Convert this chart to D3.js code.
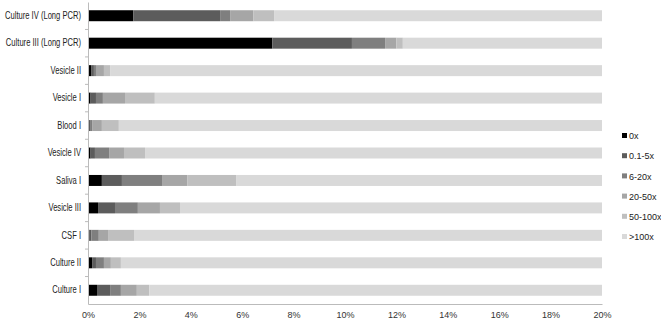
<!DOCTYPE html>
<html>
<head>
<meta charset="utf-8">
<script src="https://cdnjs.cloudflare.com/ajax/libs/d3/7.8.5/d3.min.js"></script>
<style>
  body { margin: 0; background: #fff; }
  svg text { font-family: "Liberation Sans", Arial, sans-serif; fill: #222; }
</style>
</head>
<body>
<svg width="661" height="322"></svg>
<script>
// samples, top to bottom
var samples = ["Culture IV (Long PCR)", "Culture III (Long PCR)", "Vesicle II", "Vesicle I", "Blood I",
    "Vesicle IV", "Saliva I", "Vesicle III", "CSF I", "Culture II", "Culture I"];

var coverageBins = ["0x", "0.1-5x", "6-20x", "20-50x", "50-100x", ">100x"];
var binColors = ["#000000", "#5c5c5c", "#7f7f7f", "#a6a6a6", "#bfbfbf", "#d9d9d9"];

// percent of genome in each coverage bin, per sample (same order as samples)
var cov0x      = [1.76, 7.17, 0.12, 0.10, 0.03, 0.10, 0.54, 0.39, 0.06, 0.16, 0.35];
var cov0_1to5  = [3.38, 3.10, 0.11, 0.21, 0.05, 0.17, 0.78, 0.66, 0.07, 0.15, 0.51];
var cov6to20   = [0.39, 1.29, 0.08, 0.27, 0.08, 0.55, 1.56, 0.89, 0.29, 0.31, 0.42];
var cov20to50  = [0.90, 0.44, 0.31, 0.86, 0.38, 0.58, 0.98, 0.86, 0.36, 0.27, 0.62];
var cov50to100 = [0.81, 0.25, 0.24, 1.16, 0.66, 0.82, 1.92, 0.78, 1.01, 0.39, 0.48];
var covOver100 = [92.76, 87.75, 99.14, 97.40, 98.80, 97.78, 94.22, 96.42, 98.21, 98.72, 97.62];

var xTicks = [0, 2, 4, 6, 8, 10, 12, 14, 16, 18, 20];

var series = [cov0x, cov0_1to5, cov6to20, cov20to50, cov50to100, covOver100];

var rows = samples.map(function (s, i) {
    var r = { sample: s };
    coverageBins.forEach(function (b, j) { r[b] = series[j][i]; });
    return r;
});

var svg = d3.select("svg");
var margin = { left: 88, right: 59, top: 2, bottom: 18 };
var width = 661 - margin.left - margin.right,
    height = 322 - margin.top - margin.bottom;

var g = svg.append("g").attr("transform", "translate(" + margin.left + "," + margin.top + ")");

var x = d3.scaleLinear().domain([0, 20]).range([0, width]).clamp(true);
var y = d3.scaleBand().domain(samples).range([0, height]).paddingInner(0.6).paddingOuter(0.3);

var stacked = d3.stack().keys(coverageBins)(rows);

g.selectAll(".layer")
    .data(stacked)
    .enter().append("g")
    .attr("class", "layer")
    .attr("fill", function (d, i) { return binColors[i]; })
    .selectAll("rect")
    .data(function (d) { return d; })
    .enter().append("rect")
    .attr("x", function (d) { return x(d[0]); })
    .attr("y", function (d) { return y(d.data.sample); })
    .attr("width", function (d) { return x(d[1]) - x(d[0]); })
    .attr("height", y.bandwidth());

// x axis
var xAxis = g.append("g")
    .attr("transform", "translate(0," + height + ")")
    .call(d3.axisBottom(x).tickValues(xTicks).tickSize(0).tickPadding(8)
        .tickFormat(function (d) { return d + "%"; }));
xAxis.select(".domain").attr("stroke", "#bbb");
xAxis.selectAll("text").attr("font-size", "9px").style("fill", "#333");

// y axis - labels squeezed a bit, the original font is narrow
var yAxis = g.append("g")
    .call(d3.axisLeft(y).tickSize(0).tickPadding(5));
yAxis.select(".domain").attr("stroke", "#bbb");
yAxis.selectAll("text")
    .attr("font-size", "10px")
    .attr("x", 0)
    .attr("transform", "translate(-7,0) scale(0.76,1)")
    .style("fill", "#222");

// small ticks between categories
var bounds = samples.slice(1).map(function (s) { return y(s) - y.step() * y.paddingInner() / 2; });
g.selectAll(".sep")
    .data(bounds)
    .enter().append("line")
    .attr("x1", -3).attr("x2", 0)
    .attr("y1", function (d) { return d; }).attr("y2", function (d) { return d; })
    .attr("stroke", "#bbb");

// legend
var legend = svg.append("g").attr("transform", "translate(622,136)");
var item = legend.selectAll(".item")
    .data(coverageBins)
    .enter().append("g")
    .attr("transform", function (d, i) { return "translate(0," + (i * 20.2) + ")"; });
item.append("rect")
    .attr("x", 0).attr("y", -3).attr("width", 5).attr("height", 5)
    .attr("fill", function (d, i) { return binColors[i]; });
item.append("text")
    .attr("x", 7).attr("y", 0).attr("dy", "0.35em")
    .attr("font-size", "9px")
    .text(function (d) { return d; });
</script>
</body>
</html>
